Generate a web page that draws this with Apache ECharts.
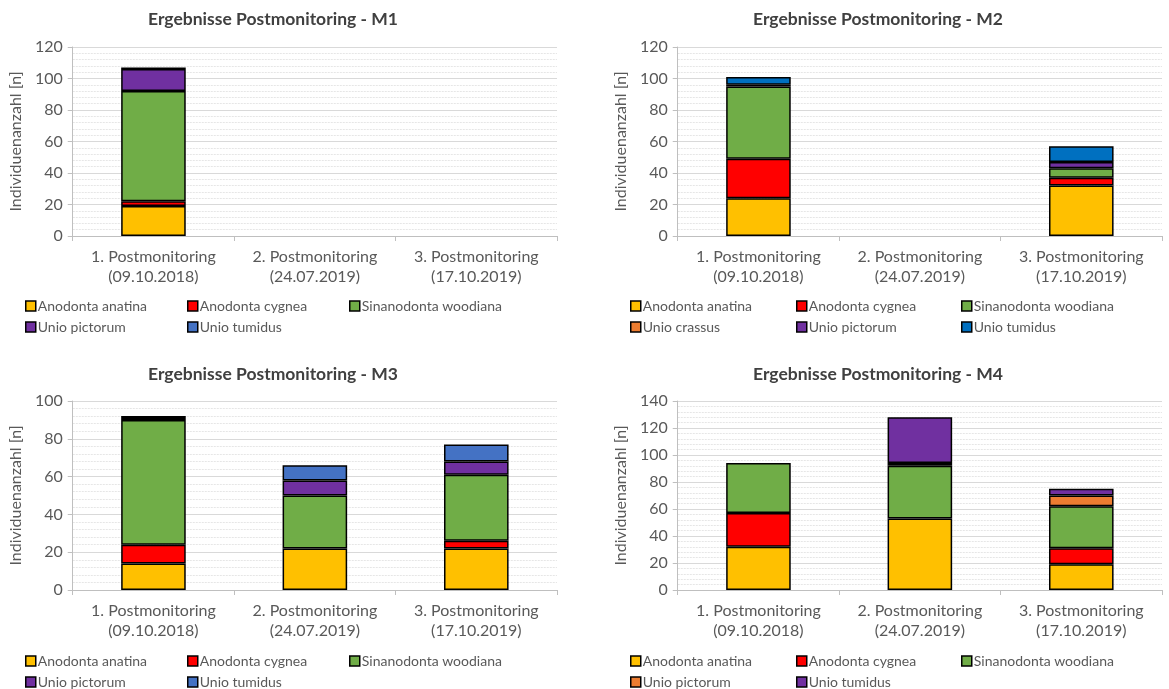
<!DOCTYPE html>
<html>
<head>
<meta charset="utf-8">
<script src="https://cdn.jsdelivr.net/npm/echarts@6/dist/echarts.min.js"></script>
<style>
  html, body { margin: 0; padding: 0; background: #fff; overflow: hidden; width: 1169px; height: 689px; }
  .panel { position: absolute; }
</style>
</head>
<body>
<div id="m1" class="panel" style="left:0;top:0;width:605px;height:355px"></div>
<div id="m2" class="panel" style="left:605px;top:0;width:564px;height:355px"></div>
<div id="m3" class="panel" style="left:0;top:355px;width:605px;height:355px"></div>
<div id="m4" class="panel" style="left:605px;top:355px;width:564px;height:355px"></div>
<script>
// Sampling campaigns (x-axis categories)
const categories = [
  '1. Postmonitoring\n(09.10.2018)',
  '2. Postmonitoring\n(24.07.2019)',
  '3. Postmonitoring\n(17.10.2019)'
];

// Y-axis scales per site
const m1Axis = { max: 120, interval: 20 };
const m2Axis = { max: 120, interval: 20 };
const m3Axis = { max: 100, interval: 20 };
const m4Axis = { max: 140, interval: 20 };

// M1 counts per species
const m1Anatina  = [19, 0, 0];
const m1Cygnea   = [3, 0, 0];
const m1Woodiana = [70, 0, 0];
const m1Pictorum = [14, 0, 0];
const m1Tumidus  = [1, 0, 0];

// M2 counts per species
const m2Anatina  = [24, 0, 32];
const m2Cygnea   = [25, 0, 5];
const m2Woodiana = [46, 0, 6];
const m2Crassus  = [0, 0, 0];
const m2Pictorum = [1, 0, 4];
const m2Tumidus  = [5, 0, 10];

// M3 counts per species
const m3Anatina  = [14, 22, 22];
const m3Cygnea   = [10, 0, 4];
const m3Woodiana = [66, 28, 35];
const m3Pictorum = [1, 8, 7];
const m3Tumidus  = [1, 8, 9];

// M4 counts per species
const m4Anatina  = [32, 53, 19];
const m4Cygnea   = [25, 0, 12];
const m4Woodiana = [37, 39, 31];
const m4Pictorum = [0, 2, 8];
const m4Tumidus  = [0, 34, 5];

const C = {
  yellow: '#FFC000', red: '#FF0000', green: '#70AD47',
  purple: '#7030A0', blue: '#4472C4', darkBlue: '#0070C0', orange: '#ED7D31'
};

const FONT = 'Lato, "Liberation Sans", sans-serif';
const GREY = '#595959';

function buildChart(el, title, axis, species, legendCols, gridTop) {
  const chart = echarts.init(document.getElementById(el), null, { renderer: 'canvas' });
  const series = species.map(s => ({
    name: s.name,
    type: 'bar',
    stack: 'total',
    barWidth: '40%',
    data: s.values.map(v => (v === 0 ? null : v)),
    itemStyle: { color: s.color, borderColor: '#000', borderWidth: 1.5 },
    emphasis: { disabled: true }
  }));
  const legends = species.map((s, i) => ({
    data: [s.name],
    left: legendCols[i % 3],
    top: 299 + Math.floor(i / 3) * 21,
    padding: 0,
    icon: 'rect',
    itemWidth: 10,
    itemHeight: 10,
    itemGap: 0,
    selectedMode: false,
    itemStyle: { borderColor: '#000', borderWidth: 1.5 },
    textStyle: { fontFamily: FONT, fontSize: 14, color: GREY, padding: [0, 0, 0, -3] }
  }));
  chart.setOption({
    animation: false,
    title: {
      text: title,
      left: 273,
      top: 10,
      padding: 0,
      textAlign: 'center',
      textStyle: { fontFamily: FONT, fontSize: 17.5, fontWeight: 'bold', color: '#404040' }
    },
    legend: legends,
    grid: { left: 69, top: gridTop, width: 488, height: 189 },
    xAxis: {
      type: 'category',
      data: categories,
      axisLine: { lineStyle: { color: '#bfbfbf', width: 1 } },
      axisTick: { show: true, length: 5, lineStyle: { color: '#bfbfbf' } },
      axisLabel: { interval: 0, fontFamily: FONT, fontSize: 16, color: GREY, lineHeight: 20, margin: 11 }
    },
    yAxis: {
      type: 'value',
      min: 0,
      max: axis.max,
      interval: axis.interval,
      name: 'Individuenanzahl [n]',
      nameLocation: 'middle',
      nameGap: 37,
      nameTextStyle: { fontFamily: FONT, fontSize: 16, color: GREY },
      axisLine: { show: true, lineStyle: { color: '#bfbfbf', width: 1 } },
      axisTick: { show: true, length: 5, lineStyle: { color: '#bfbfbf' } },
      axisLabel: { fontFamily: FONT, fontSize: 16, color: GREY, margin: 10 },
      splitLine: { show: true, lineStyle: { color: '#d9d9d9', width: 1 } },
      minorTick: { show: false, splitNumber: 5 },
      minorSplitLine: { show: true, lineStyle: { color: '#e6e6e6', width: 1, type: [2, 1] } }
    },
    series: series
  });
}

const colsLeft = [25, 187, 349];
const colsRight = [25, 191, 356];

buildChart('m1', 'Ergebnisse Postmonitoring - M1', m1Axis, [
  { name: 'Anodonta anatina', values: m1Anatina, color: C.yellow },
  { name: 'Anodonta cygnea', values: m1Cygnea, color: C.red },
  { name: 'Sinanodonta woodiana', values: m1Woodiana, color: C.green },
  { name: 'Unio pictorum', values: m1Pictorum, color: C.purple },
  { name: 'Unio tumidus', values: m1Tumidus, color: C.blue }
], colsLeft, 47);

buildChart('m2', 'Ergebnisse Postmonitoring - M2', m2Axis, [
  { name: 'Anodonta anatina', values: m2Anatina, color: C.yellow },
  { name: 'Anodonta cygnea', values: m2Cygnea, color: C.red },
  { name: 'Sinanodonta woodiana', values: m2Woodiana, color: C.green },
  { name: 'Unio crassus', values: m2Crassus, color: C.orange },
  { name: 'Unio pictorum', values: m2Pictorum, color: C.purple },
  { name: 'Unio tumidus', values: m2Tumidus, color: C.darkBlue }
], colsRight, 47);

buildChart('m3', 'Ergebnisse Postmonitoring - M3', m3Axis, [
  { name: 'Anodonta anatina', values: m3Anatina, color: C.yellow },
  { name: 'Anodonta cygnea', values: m3Cygnea, color: C.red },
  { name: 'Sinanodonta woodiana', values: m3Woodiana, color: C.green },
  { name: 'Unio pictorum', values: m3Pictorum, color: C.purple },
  { name: 'Unio tumidus', values: m3Tumidus, color: C.blue }
], colsLeft, 46);

buildChart('m4', 'Ergebnisse Postmonitoring - M4', m4Axis, [
  { name: 'Anodonta anatina', values: m4Anatina, color: C.yellow },
  { name: 'Anodonta cygnea', values: m4Cygnea, color: C.red },
  { name: 'Sinanodonta woodiana', values: m4Woodiana, color: C.green },
  { name: 'Unio pictorum', values: m4Pictorum, color: C.orange },
  { name: 'Unio tumidus', values: m4Tumidus, color: C.purple }
], colsRight, 46);
</script>
</body>
</html>
